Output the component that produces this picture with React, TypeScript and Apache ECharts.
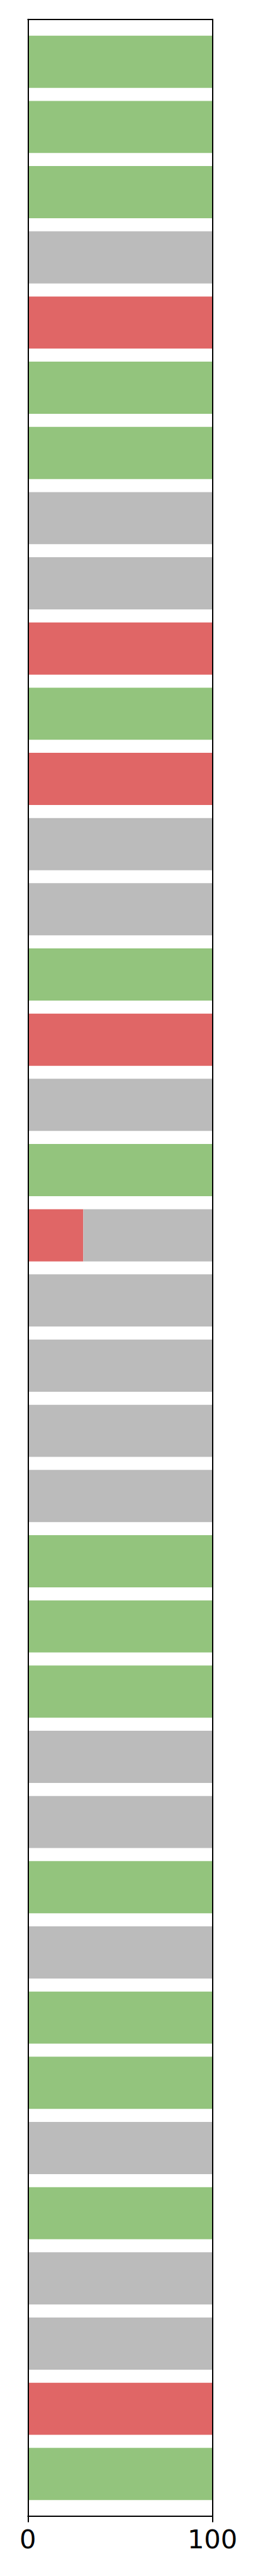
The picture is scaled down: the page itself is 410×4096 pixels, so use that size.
import React, { useEffect, useRef } from "react";
import * as echarts from "echarts";

const rowLabels = [
  "1", "2", "3", "4", "5", "6", "7", "8", "9", "10",
  "11", "12", "13", "14", "15", "16", "17", "18", "19", "20",
  "21", "22", "23", "24", "25", "26", "27", "28", "29", "30",
  "31", "32", "33", "34", "35", "36", "37", "38",
];

const greenValues = [
  100, 100, 100, 0, 0, 100, 100, 0, 0, 0,
  100, 0, 0, 0, 100, 0, 0, 100, 0, 0,
  0, 0, 0, 100, 100, 100, 0, 0, 100, 0,
  100, 100, 0, 100, 0, 0, 0, 100,
];

const redValues = [
  0, 0, 0, 0, 100, 0, 0, 0, 0, 100,
  0, 100, 0, 0, 0, 100, 0, 0, 30, 0,
  0, 0, 0, 0, 0, 0, 0, 0, 0, 0,
  0, 0, 0, 0, 0, 0, 100, 0,
];

const greyValues = [
  0, 0, 0, 100, 0, 0, 0, 100, 100, 0,
  0, 0, 100, 100, 0, 0, 100, 0, 70, 100,
  100, 100, 100, 0, 0, 0, 100, 100, 0, 100,
  0, 0, 100, 0, 100, 100, 0, 0,
];

const xTickMin = 0;
const xTickMax = 100;

export default function App() {
  const ref = useRef<HTMLDivElement>(null);

  useEffect(() => {
    if (!ref.current) return;
    const chart = echarts.init(ref.current, null, { renderer: "svg" });

    const S = 0.682;
    const left = 65 * S;
    const width = (495 - 65) * S;
    const boxTop = 45 * S;
    const boxHeight = (5866 - 45) * S;
    const pitch = 152 * S;
    const barsTop = (144 - 76) * S;
    const barsHeight = pitch * rowLabels.length;

    const spine = { show: true, lineStyle: { color: "#000", width: 2 } };

    const option: any = {
      animation: false,
      backgroundColor: "#ffffff",
      grid: [
        { left, width, top: barsTop, height: barsHeight, containLabel: false },
        { left, width, top: boxTop, height: boxHeight, containLabel: false },
      ],
      xAxis: [
        {
          gridIndex: 1,
          type: "value",
          position: "bottom",
          min: xTickMin,
          max: xTickMax,
          interval: 100,
          z: 10,
          axisLine: { ...spine, onZero: false },
          axisTick: { show: true, inside: false, length: 10, lineStyle: { color: "#000", width: 2 } },
          axisLabel: {
            show: true,
            margin: 16,
            color: "#000",
            fontSize: 41.6,
            fontFamily: "DejaVu Sans",
            showMinLabel: true,
            showMaxLabel: true,
          },
          splitLine: { show: false },
        },
        {
          gridIndex: 1,
          type: "value",
          position: "top",
          min: xTickMin,
          max: xTickMax,
          z: 10,
          axisLine: { ...spine, onZero: false },
          axisTick: { show: false },
          axisLabel: { show: false },
          splitLine: { show: false },
        },
        {
          gridIndex: 0,
          type: "value",
          min: xTickMin,
          max: xTickMax,
          show: false,
          splitLine: { show: false },
        },
      ],
      yAxis: [
        {
          gridIndex: 1,
          type: "value",
          position: "left",
          min: 0,
          max: 1,
          z: 10,
          axisLine: { ...spine, onZero: false },
          axisTick: { show: false },
          axisLabel: { show: false },
          splitLine: { show: false },
        },
        {
          gridIndex: 1,
          type: "value",
          position: "right",
          min: 0,
          max: 1,
          z: 10,
          axisLine: { ...spine, onZero: false },
          axisTick: { show: false },
          axisLabel: { show: false },
          splitLine: { show: false },
        },
        {
          gridIndex: 0,
          type: "category",
          data: rowLabels,
          inverse: true,
          show: false,
          boundaryGap: true,
        },
      ],
      series: [
        {
          name: "green",
          type: "bar",
          stack: "total",
          xAxisIndex: 2,
          yAxisIndex: 2,
          data: greenValues,
          barWidth: "80%",
          itemStyle: { color: "#93c47d" },
        },
        {
          name: "red",
          type: "bar",
          stack: "total",
          xAxisIndex: 2,
          yAxisIndex: 2,
          data: redValues,
          barWidth: "80%",
          itemStyle: { color: "#e06666" },
        },
        {
          name: "grey",
          type: "bar",
          stack: "total",
          xAxisIndex: 2,
          yAxisIndex: 2,
          data: greyValues,
          barWidth: "80%",
          itemStyle: { color: "#bbbbbb" },
        },
      ],
    };

    chart.setOption(option);
    return () => chart.dispose();
  }, []);

  return (
    <div
      ref={ref}
      style={{ position: "absolute", left: 0, top: 0, width: 410, height: 4096 }}
    />
  );
}
